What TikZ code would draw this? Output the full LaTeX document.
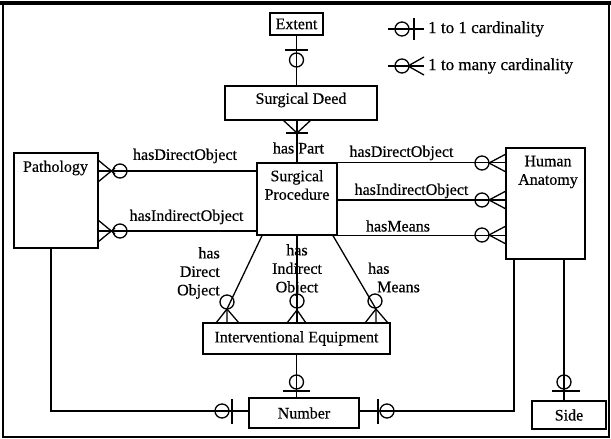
\documentclass[tikz,border=0pt]{standalone}
\usepackage{fontspec}
\setmainfont{Liberation Serif}[FakeBold=0.5]
\usetikzlibrary{calc}
\begin{document}
\begin{tikzpicture}[x=1pt,y=-1pt,
  entity/.style={draw, line width=1.3pt, inner sep=0pt, rectangle},
  conn/.style={line width=1.3pt},
  lbl/.style={font=\fontsize{16}{18.5}\selectfont, inner sep=0pt},
  leg/.style={font=\fontsize{17}{20}\selectfont, inner sep=0pt, anchor=west},
]
\useasboundingbox (0,0) rectangle (611,439);

% outer frame
\draw[line width=1.5pt] (3,3) rectangle (609,437);
\draw[line width=3.5pt] (0,3) -- (611,3);

% entities
\node[entity, lbl, minimum width=53pt, minimum height=22pt] (ext) at (296.5,24) {Extent};
\node[entity, minimum width=152pt, minimum height=34pt] (sd) at (301,103) {};
\node[lbl] at (301,100) {Surgical Deed};
\node[entity, minimum width=80pt, minimum height=72pt] (sp) at (297,199) {};
\node[lbl, align=center] at (297,185) {Surgical\\Procedure};
\node[entity, minimum width=84pt, minimum height=95pt] (pat) at (56,200.5) {};
\node[lbl] at (55.5,168) {Pathology};
\node[entity, minimum width=79pt, minimum height=111pt] (ha) at (545.5,203.5) {};
\node[lbl, align=center] at (548,172) {Human\\Anatomy};
\node[entity, lbl, minimum width=187pt, minimum height=31pt] (ie) at (296.5,338.5) {Interventional Equipment};
\node[entity, lbl, minimum width=110pt, minimum height=30pt] (num) at (304,413) {Number};
\node[entity, lbl, minimum width=74pt, minimum height=28pt] (side) at (569,415) {Side};

% Extent -- Surgical Deed (1:1)
\draw[conn] (ext.south) -- (ext.south |- sd.north);
\draw[conn] (285,50) -- (308,50);
\draw[conn] (296.5,60) circle[radius=7pt];

% Surgical Deed -- Surgical Procedure: has Part
\draw[conn] (sp.north) -- (sp.north |- sd.south);
\draw[conn] (283,120) -- (297,133) -- (311,120);
\draw[conn] (286,133) -- (308,133);
\node[lbl] at (298.5,148) {has Part};

% Pathology -- Surgical Procedure
\draw[conn] (pat.east |- 0,171) -- (sp.west |- 0,171);
\draw[conn] (98,160) -- (115,174);
\draw[conn] (98,182) -- (115,168);
\draw[conn] (120,171) circle[radius=7pt];
\node[lbl] at (185,156) {hasDirectObject};

\draw[conn] (pat.east |- 0,231) -- (sp.west |- 0,231);
\draw[conn] (98,220) -- (115,234);
\draw[conn] (98,242) -- (115,228);
\draw[conn] (120,231) circle[radius=7pt];
\node[lbl] at (186.5,217) {hasIndirectObject};

% Surgical Procedure -- Human Anatomy
\draw[conn] (sp.north east) -- (sp.north east -| ha.west);
\draw[conn] (506,154) -- (489,163) -- (506,172);
\draw[conn] (482,163) circle[radius=7pt];
\node[lbl] at (401.5,153) {hasDirectObject};

\draw[conn] (sp.east |- 0,200) -- (ha.west |- 0,200);
\draw[conn] (506,191) -- (489,200) -- (506,209);
\draw[conn] (482,200) circle[radius=7pt];
\node[lbl] at (411.5,191) {hasIndirectObject};

\draw[conn] (sp.south east) -- (sp.south east -| ha.west);
\draw[conn] (506,226) -- (489,235) -- (506,244);
\draw[conn] (482,235) circle[radius=7pt];
\node[lbl] at (398,226) {hasMeans};

% Surgical Procedure -- Interventional Equipment
\draw[conn] ([xshift=-35pt]sp.south) -- (227,309) -- (227,323);
\draw[conn] (216,323) -- (227,309) -- (239,323);
\draw[conn] (227,302) circle[radius=7pt];
\node[lbl, align=right, anchor=east] at (220,273) {has\\Direct\\Object};

\draw[conn] (sp.south) -- (sp.south |- ie.north);
\draw[conn] (287,323) -- (297,310) -- (306,323);
\draw[conn] (297,301) circle[radius=7pt];
\node[lbl, align=center] at (297,270) {has\\Indirect\\Object};

\draw[conn] ([xshift=36pt]sp.south) -- (376,309) -- (376,323);
\draw[conn] (365,323) -- (376,309) -- (388,323);
\draw[conn] (375,301) circle[radius=7pt];
\node[lbl, align=left, anchor=west] at (368,277.5) {has\\\hspace*{9pt}Means};

% Interventional Equipment -- Number
\draw[conn] (ie.south) -- (ie.south |- num.north);
\draw[conn] (296.5,382) circle[radius=7pt];
\draw[conn] (283,391) -- (310,391);

% Pathology -- Number
\draw[conn] ([xshift=-5pt]pat.south) |- ([yshift=2pt]num.west);
\draw[conn] (222,411) circle[radius=7pt];
\draw[conn] (232,399) -- (232,424);

% Human Anatomy -- Number
\draw[conn] ([xshift=-31.5pt]ha.south) |- ([yshift=2pt]num.east);
\draw[conn] (378,399) -- (378,424);
\draw[conn] (387,411) circle[radius=7pt];

% Human Anatomy -- Side
\draw[conn] ([xshift=18.5pt]ha.south) -- ([xshift=18.5pt]ha.south |- side.north);
\draw[conn] (564,382) circle[radius=7pt];
\draw[conn] (552,391) -- (580,391);

% legend
\draw[conn] (388,29) -- (424,29);
\draw[conn] (402,29) circle[radius=7pt];
\draw[conn] (414,18) -- (414,40);
\node[leg] at (428,29) {1 to 1 cardinality};

\draw[conn] (388,66) -- (424,66);
\draw[conn] (402,66) circle[radius=7pt];
\draw[conn] (424,57) -- (408,66) -- (424,75);
\node[leg] at (428,66) {1 to many cardinality};
\end{tikzpicture}
\end{document}
